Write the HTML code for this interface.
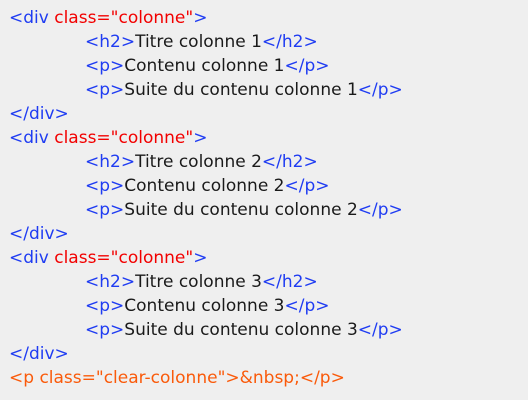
<!DOCTYPE html>
<html><head><meta charset="utf-8"><style>
html,body{margin:0;padding:0;background:#efefef;width:528px;height:400px;overflow:hidden}
.c{position:absolute;left:9px;top:6px;font-family:"DejaVu Sans","Liberation Sans",sans-serif;font-size:17px;line-height:24px;color:#1a1a1a;white-space:pre}
.b{color:#1f3cf2}.r{color:#f20000}.o{color:#fa5a0a}
.i{padding-left:76px}
</style></head><body><div class="c"><div><span class="b">&lt;div </span><span class="r">class="colonne"</span><span class="b">&gt;</span></div><div class="i"><span class="b">&lt;h2&gt;</span>Titre colonne 1<span class="b">&lt;/h2&gt;</span></div><div class="i"><span class="b">&lt;p&gt;</span>Contenu colonne 1<span class="b">&lt;/p&gt;</span></div><div class="i"><span class="b">&lt;p&gt;</span>Suite du contenu colonne 1<span class="b">&lt;/p&gt;</span></div><div class="b">&lt;/div&gt;</div><div><span class="b">&lt;div </span><span class="r">class="colonne"</span><span class="b">&gt;</span></div><div class="i"><span class="b">&lt;h2&gt;</span>Titre colonne 2<span class="b">&lt;/h2&gt;</span></div><div class="i"><span class="b">&lt;p&gt;</span>Contenu colonne 2<span class="b">&lt;/p&gt;</span></div><div class="i"><span class="b">&lt;p&gt;</span>Suite du contenu colonne 2<span class="b">&lt;/p&gt;</span></div><div class="b">&lt;/div&gt;</div><div><span class="b">&lt;div </span><span class="r">class="colonne"</span><span class="b">&gt;</span></div><div class="i"><span class="b">&lt;h2&gt;</span>Titre colonne 3<span class="b">&lt;/h2&gt;</span></div><div class="i"><span class="b">&lt;p&gt;</span>Contenu colonne 3<span class="b">&lt;/p&gt;</span></div><div class="i"><span class="b">&lt;p&gt;</span>Suite du contenu colonne 3<span class="b">&lt;/p&gt;</span></div><div class="b">&lt;/div&gt;</div><div class="o">&lt;p class="clear-colonne"&gt;&amp;nbsp;&lt;/p&gt;</div></div></body></html>
